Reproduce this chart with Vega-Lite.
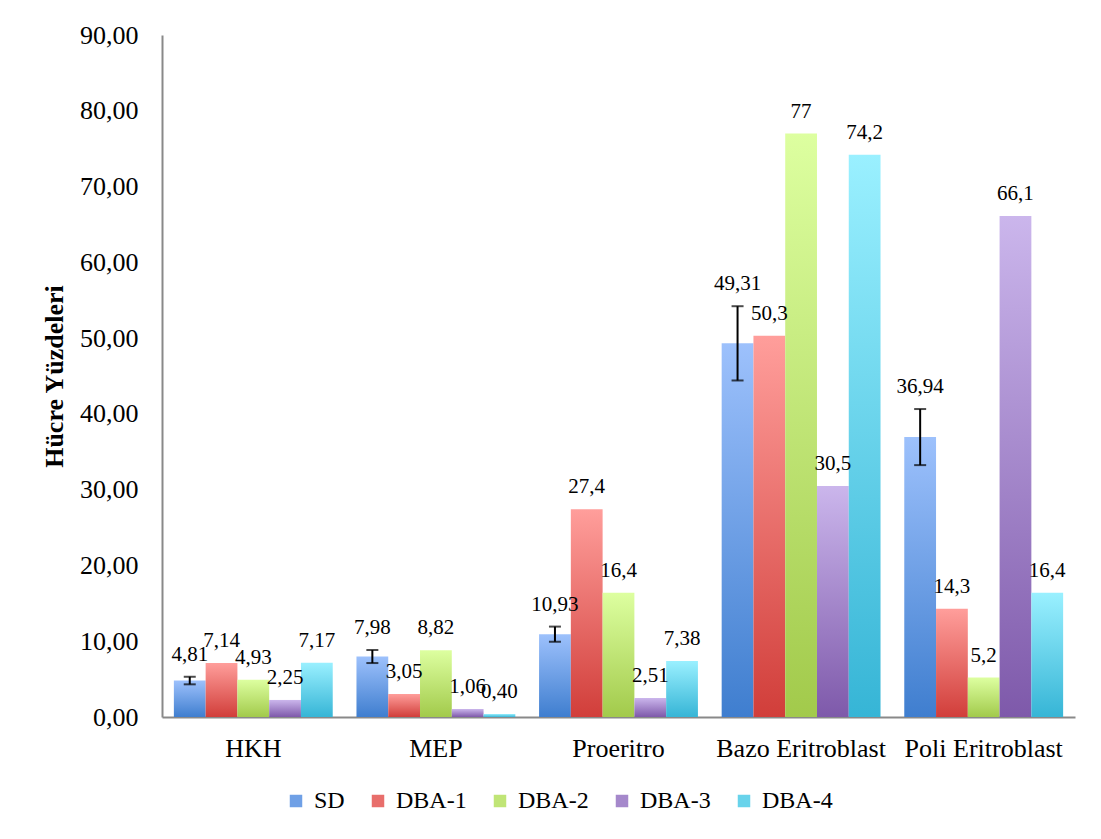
{
  "$schema": "https://vega.github.io/schema/vega-lite/v6.json",
  "width": 913,
  "height": 682,
  "autosize": {"type": "none"},
  "padding": {"left": 162, "top": 35, "right": 26, "bottom": 122},
  "background": "white",
  "config": {
    "font": "Liberation Serif",
    "view": {"stroke": null},
    "text": {"font": "Liberation Serif"},
    "legend": {"labelFont": "Liberation Serif"},
    "axis": {"domainColor": "#898989", "domainWidth": 2, "ticks": false, "grid": false,
             "labelColor": "black", "labelFont": "Liberation Serif", "labelFontSize": 26}
  },
  "data": {
    "values": [
      {"cell": "HKH", "group": "SD", "value": 4.81, "label": "4,81", "err": 0.5},
      {"cell": "HKH", "group": "DBA-1", "value": 7.14, "label": "7,14", "err": 0},
      {"cell": "HKH", "group": "DBA-2", "value": 4.93, "label": "4,93", "err": 0},
      {"cell": "HKH", "group": "DBA-3", "value": 2.25, "label": "2,25", "err": 0},
      {"cell": "HKH", "group": "DBA-4", "value": 7.17, "label": "7,17", "err": 0},
      {"cell": "MEP", "group": "SD", "value": 7.98, "label": "7,98", "err": 0.86},
      {"cell": "MEP", "group": "DBA-1", "value": 3.05, "label": "3,05", "err": 0},
      {"cell": "MEP", "group": "DBA-2", "value": 8.82, "label": "8,82", "err": 0},
      {"cell": "MEP", "group": "DBA-3", "value": 1.06, "label": "1,06", "err": 0},
      {"cell": "MEP", "group": "DBA-4", "value": 0.40, "label": "0,40", "err": 0},
      {"cell": "Proeritro", "group": "SD", "value": 10.93, "label": "10,93", "err": 1.0},
      {"cell": "Proeritro", "group": "DBA-1", "value": 27.4, "label": "27,4", "err": 0},
      {"cell": "Proeritro", "group": "DBA-2", "value": 16.4, "label": "16,4", "err": 0},
      {"cell": "Proeritro", "group": "DBA-3", "value": 2.51, "label": "2,51", "err": 0},
      {"cell": "Proeritro", "group": "DBA-4", "value": 7.38, "label": "7,38", "err": 0},
      {"cell": "Bazo Eritroblast", "group": "SD", "value": 49.31, "label": "49,31", "err": 4.9},
      {"cell": "Bazo Eritroblast", "group": "DBA-1", "value": 50.3, "label": "50,3", "err": 0},
      {"cell": "Bazo Eritroblast", "group": "DBA-2", "value": 77, "label": "77", "err": 0},
      {"cell": "Bazo Eritroblast", "group": "DBA-3", "value": 30.5, "label": "30,5", "err": 0},
      {"cell": "Bazo Eritroblast", "group": "DBA-4", "value": 74.2, "label": "74,2", "err": 0},
      {"cell": "Poli Eritroblast", "group": "SD", "value": 36.94, "label": "36,94", "err": 3.7},
      {"cell": "Poli Eritroblast", "group": "DBA-1", "value": 14.3, "label": "14,3", "err": 0},
      {"cell": "Poli Eritroblast", "group": "DBA-2", "value": 5.2, "label": "5,2", "err": 0},
      {"cell": "Poli Eritroblast", "group": "DBA-3", "value": 66.1, "label": "66,1", "err": 0},
      {"cell": "Poli Eritroblast", "group": "DBA-4", "value": 16.4, "label": "16,4", "err": 0}
    ]
  },
  "transform": [
    {"calculate": "datum.value - datum.err", "as": "lo"},
    {"calculate": "datum.value + datum.err", "as": "hi"}
  ],
  "encoding": {
    "x": {
      "field": "cell", "type": "nominal",
      "sort": ["HKH", "MEP", "Proeritro", "Bazo Eritroblast", "Poli Eritroblast"],
      "scale": {"paddingInner": 0.13, "paddingOuter": 0.065},
      "axis": {"title": null, "labelAngle": 0, "labelPadding": 18}
    },
    "xOffset": {
      "field": "group", "type": "nominal",
      "sort": ["SD", "DBA-1", "DBA-2", "DBA-3", "DBA-4"],
      "scale": {"paddingInner": 0, "paddingOuter": 0}
    }
  },
  "layer": [
    {
      "mark": {"type": "bar"},
      "encoding": {
        "y": {
          "field": "value", "type": "quantitative",
          "scale": {"domain": [0, 90], "nice": false},
          "axis": {
            "title": "Hücre Yüzdeleri", "titleFont": "Liberation Serif", "titleFontSize": 26,
            "titleFontWeight": "bold", "titleColor": "black", "titlePadding": 12,
            "values": [0, 10, 20, 30, 40, 50, 60, 70, 80, 90],
            "labelPadding": 24,
            "labelExpr": "replace(format(datum.value, '.2f'), '.', ',')"
          }
        },
        "fill": {
          "field": "group", "type": "nominal",
          "sort": ["SD", "DBA-1", "DBA-2", "DBA-3", "DBA-4"],
          "scale": {
            "domain": ["SD", "DBA-1", "DBA-2", "DBA-3", "DBA-4"],
            "range": ["#6fa0e6", "#e86e6b", "#c0e576", "#a588cb", "#68d3eb"]
          },
          "condition": [
            {"test": "datum.group === 'SD'", "value": {"gradient": "linear", "x1": 0, "y1": 0, "x2": 0, "y2": 1,
              "stops": [{"offset": 0, "color": "#9dc1fc"}, {"offset": 1, "color": "#3f7ecf"}]}},
            {"test": "datum.group === 'DBA-1'", "value": {"gradient": "linear", "x1": 0, "y1": 0, "x2": 0, "y2": 1,
              "stops": [{"offset": 0, "color": "#ff9e9b"}, {"offset": 1, "color": "#d13e3a"}]}},
            {"test": "datum.group === 'DBA-2'", "value": {"gradient": "linear", "x1": 0, "y1": 0, "x2": 0, "y2": 1,
              "stops": [{"offset": 0, "color": "#ddffa0"}, {"offset": 1, "color": "#a2ca4b"}]}},
            {"test": "datum.group === 'DBA-3'", "value": {"gradient": "linear", "x1": 0, "y1": 0, "x2": 0, "y2": 1,
              "stops": [{"offset": 0, "color": "#cbb6ec"}, {"offset": 1, "color": "#7e59aa"}]}},
            {"test": "datum.group === 'DBA-4'", "value": {"gradient": "linear", "x1": 0, "y1": 0, "x2": 0, "y2": 1,
              "stops": [{"offset": 0, "color": "#9af0ff"}, {"offset": 1, "color": "#36b5d6"}]}}
          ],
          "legend": {
            "title": null, "orient": "none", "direction": "horizontal",
            "legendX": 122, "legendY": 754,
            "symbolType": "square", "symbolSize": 156, "symbolStrokeWidth": 0,
            "labelFont": "Liberation Serif", "labelFontSize": 24, "labelColor": "black",
            "labelOffset": 6, "columnPadding": 21
          }
        }
      }
    },
    {
      "transform": [{"filter": "datum.err > 0"}],
      "mark": {"type": "rule", "color": "black", "strokeWidth": 2},
      "encoding": {
        "y": {"field": "lo", "type": "quantitative"},
        "y2": {"field": "hi"}
      }
    },
    {
      "transform": [{"filter": "datum.err > 0"}],
      "mark": {"type": "tick", "color": "black", "size": 12, "thickness": 2},
      "encoding": {"y": {"field": "lo", "type": "quantitative"}}
    },
    {
      "transform": [{"filter": "datum.err > 0"}],
      "mark": {"type": "tick", "color": "black", "size": 12, "thickness": 2},
      "encoding": {"y": {"field": "hi", "type": "quantitative"}}
    },
    {
      "mark": {"type": "text", "font": "Liberation Serif", "fontSize": 21, "color": "black", "baseline": "alphabetic", "dy": -16},
      "encoding": {
        "y": {"field": "hi", "type": "quantitative"},
        "text": {"field": "label"}
      }
    }
  ]
}
